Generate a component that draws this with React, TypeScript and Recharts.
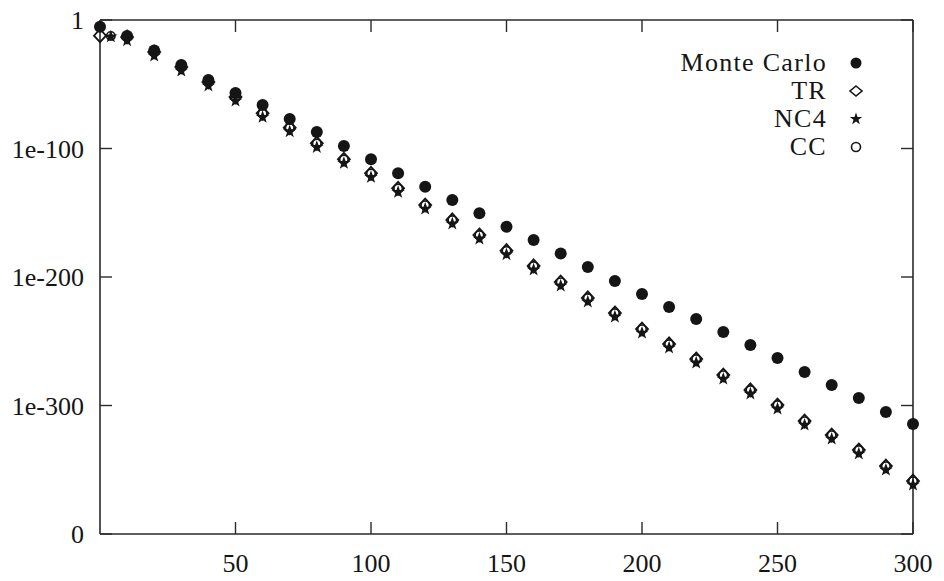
import React from 'react';
import { ScatterChart, Scatter, XAxis, YAxis, ReferenceLine, Legend } from 'recharts';

// sample sizes (x) and log10 of the error (y)
const mcN = [0, 10, 20, 30, 40, 50, 60, 70, 80, 90, 100, 110, 120, 130, 140, 150, 160, 170, 180, 190, 200, 210, 220, 230, 240, 250, 260, 270, 280, 290, 300];
const mcExp = [-5.2, -12.5, -23.7, -35.0, -46.7, -56.8, -66.1, -77.0, -87.2, -98.0, -108.4, -119.3, -129.7, -140.1, -150.4, -160.9, -171.2, -181.7, -192.2, -203.1, -213.2, -223.3, -232.7, -242.8, -252.9, -263.0, -274.0, -284.1, -294.2, -305.1, -314.4];

const trN = [0, 10, 20, 30, 40, 50, 60, 70, 80, 90, 100, 110, 120, 130, 140, 150, 160, 170, 180, 190, 200, 210, 220, 230, 240, 250, 260, 270, 280, 290, 300];
const trExp = [-12.2, -13.2, -24.9, -36.6, -48.2, -59.9, -72.6, -83.8, -96.0, -108.4, -119.3, -131.0, -144.0, -155.6, -167.3, -179.5, -191.4, -203.9, -216.3, -228.0, -240.5, -252.1, -263.8, -276.3, -287.9, -299.6, -312.1, -323.0, -334.6, -347.1, -358.8];

const nc4N = [4, 10, 20, 30, 40, 50, 60, 70, 80, 90, 100, 110, 120, 130, 140, 150, 160, 170, 180, 190, 200, 210, 220, 230, 240, 250, 260, 270, 280, 290, 300];
const nc4Exp = [-13.0, -16.0, -27.9, -39.6, -51.2, -62.9, -75.6, -86.8, -99.0, -111.4, -122.3, -134.0, -147.0, -158.6, -170.3, -182.5, -194.4, -206.9, -219.3, -231.0, -243.5, -255.1, -266.8, -279.3, -290.9, -302.6, -315.1, -326.0, -337.6, -350.1, -361.8];

const ccN = [4, 10, 20, 30, 40, 50, 60, 70, 80, 90, 100, 110, 120, 130, 140, 150, 160, 170, 180, 190, 200, 210, 220, 230, 240, 250, 260, 270, 280, 290, 300];
const ccExp = [-12.4, -13.4, -25.0, -36.7, -48.3, -60.0, -72.7, -83.9, -96.1, -108.5, -119.4, -131.1, -144.1, -155.7, -167.4, -179.6, -191.5, -204.0, -216.4, -228.1, -240.6, -252.2, -263.9, -276.4, -288.0, -299.7, -312.2, -323.1, -334.7, -347.2, -358.9];

const xTicks = [50, 100, 150, 200, 250, 300];
const yTicks = [-400, -300, -200, -100, 0];
const seriesNames = ['Monte Carlo', 'TR', 'NC4', 'CC'];

const toRows = (ns: number[], es: number[]) => ns.map((n, i) => ({ n, e: es[i] }));

const W = 944;
const H = 581;
const PLOT_LEFT = 100;
const PLOT_RIGHT = 913;
const PLOT_TOP = 20;
const PLOT_BOTTOM = 534;
const INK = '#151515';
const FRAME = '#2a2a2a';
const FONT = '"Liberation Serif", "Times New Roman", serif';

const yLabel = (v: number) => (v === 0 ? '1' : v === -400 ? '0' : `1e${v}`);

const XTick = (props: any) => {
  const { x, payload } = props;
  return (
    <g>
      <line x1={x} x2={x} y1={PLOT_BOTTOM} y2={PLOT_BOTTOM - 12} stroke={FRAME} strokeWidth={1.4} />
      <line x1={x} x2={x} y1={PLOT_TOP} y2={PLOT_TOP + 12} stroke={FRAME} strokeWidth={1.4} />
      <text x={x} y={PLOT_BOTTOM + 38} textAnchor="middle" fontFamily={FONT} fontSize={26} fill={INK}>
        {payload.value}
      </text>
    </g>
  );
};

const YTick = (props: any) => {
  const { y, payload } = props;
  return (
    <g>
      <line x1={PLOT_LEFT} x2={PLOT_LEFT + 12} y1={y} y2={y} stroke={FRAME} strokeWidth={1.4} />
      <line x1={PLOT_RIGHT} x2={PLOT_RIGHT - 12} y1={y} y2={y} stroke={FRAME} strokeWidth={1.4} />
      <text x={PLOT_LEFT - 16} y={y} dy="0.35em" textAnchor="end" fontFamily={FONT} fontSize={26} fill={INK}>
        {yLabel(payload.value)}
      </text>
    </g>
  );
};

const Dot = ({ cx, cy }: any) => <circle cx={cx} cy={cy} r={6} fill={INK} />;
const Diamond = ({ cx, cy }: any) => (
  <path d={`M${cx},${cy - 6.5} L${cx + 6},${cy} L${cx},${cy + 6.5} L${cx - 6},${cy} Z`} fill="none" stroke={INK} strokeWidth={1.8} />
);
const starPath = (cx: number, cy: number, ro: number, ri: number) => {
  const pts: string[] = [];
  for (let k = 0; k < 10; k++) {
    const r = k % 2 === 0 ? ro : ri;
    const a = -Math.PI / 2 + (k * Math.PI) / 5;
    pts.push(`${cx + r * Math.cos(a)},${cy + r * Math.sin(a)}`);
  }
  return `M${pts.join('L')}Z`;
};
const Star = ({ cx, cy }: any) => <path d={starPath(cx, cy, 7, 2.8)} fill={INK} />;
const Ring = ({ cx, cy }: any) => <circle cx={cx} cy={cy} r={4.2} fill="none" stroke={INK} strokeWidth={1.6} />;

const legendMarks = [
  <circle cx={29} cy={14} r={5.5} fill={INK} />,
  <path d="M29,9 L35,14 L29,19 L23,14 Z" fill="none" stroke={INK} strokeWidth={1.6} />,
  <path d={starPath(29, 14, 6.5, 2.6)} fill={INK} />,
  <circle cx={29} cy={14} r={4.5} fill="none" stroke={INK} strokeWidth={1.6} />,
];

const LegendBox = () => (
  <div style={{ display: 'flex', flexDirection: 'column', alignItems: 'flex-end' }}>
    {seriesNames.map((name, i) => (
      <div key={name} style={{ display: 'flex', alignItems: 'center', height: 28 }}>
        <span style={{ fontFamily: FONT, fontSize: 26, letterSpacing: 1.3, lineHeight: '28px', color: INK }}>{name}</span>
        <svg width={58} height={28}>{legendMarks[i]}</svg>
      </div>
    ))}
  </div>
);

export default function App() {
  return (
    <div style={{ width: W, height: H, background: '#fff', margin: '-8px 0 0 -8px' }}>
      <ScatterChart width={W} height={H} margin={{ top: PLOT_TOP, right: W - PLOT_RIGHT, bottom: 0, left: 0 }}>
        <XAxis
          type="number"
          dataKey="n"
          domain={[0, 300]}
          ticks={xTicks}
          interval={0}
          height={H - PLOT_BOTTOM}
          tickLine={false}
          tickSize={0}
          tickMargin={0}
          tick={<XTick />}
          axisLine={{ stroke: FRAME, strokeWidth: 1.6 }}
        />
        <YAxis
          type="number"
          dataKey="e"
          domain={[-400, 0]}
          ticks={yTicks}
          interval={0}
          width={PLOT_LEFT}
          tickLine={false}
          tickSize={0}
          tickMargin={0}
          tick={<YTick />}
          axisLine={{ stroke: FRAME, strokeWidth: 1.6 }}
        />
        <ReferenceLine y={0} stroke={FRAME} strokeWidth={1.6} />
        <ReferenceLine x={300} stroke={FRAME} strokeWidth={1.6} />
        <Legend layout="vertical" align="center" verticalAlign="middle" content={<LegendBox />}
          wrapperStyle={{ top: 49, left: 'auto', right: 59, bottom: 'auto', width: 'auto' }} />
        <Scatter name="TR" data={toRows(trN, trExp)} shape={<Diamond />} isAnimationActive={false} />
        <Scatter name="CC" data={toRows(ccN, ccExp)} shape={<Ring />} isAnimationActive={false} />
        <Scatter name="NC4" data={toRows(nc4N, nc4Exp)} shape={<Star />} isAnimationActive={false} />
        <Scatter name="Monte Carlo" data={toRows(mcN, mcExp)} shape={<Dot />} isAnimationActive={false} />
      </ScatterChart>
    </div>
  );
}
